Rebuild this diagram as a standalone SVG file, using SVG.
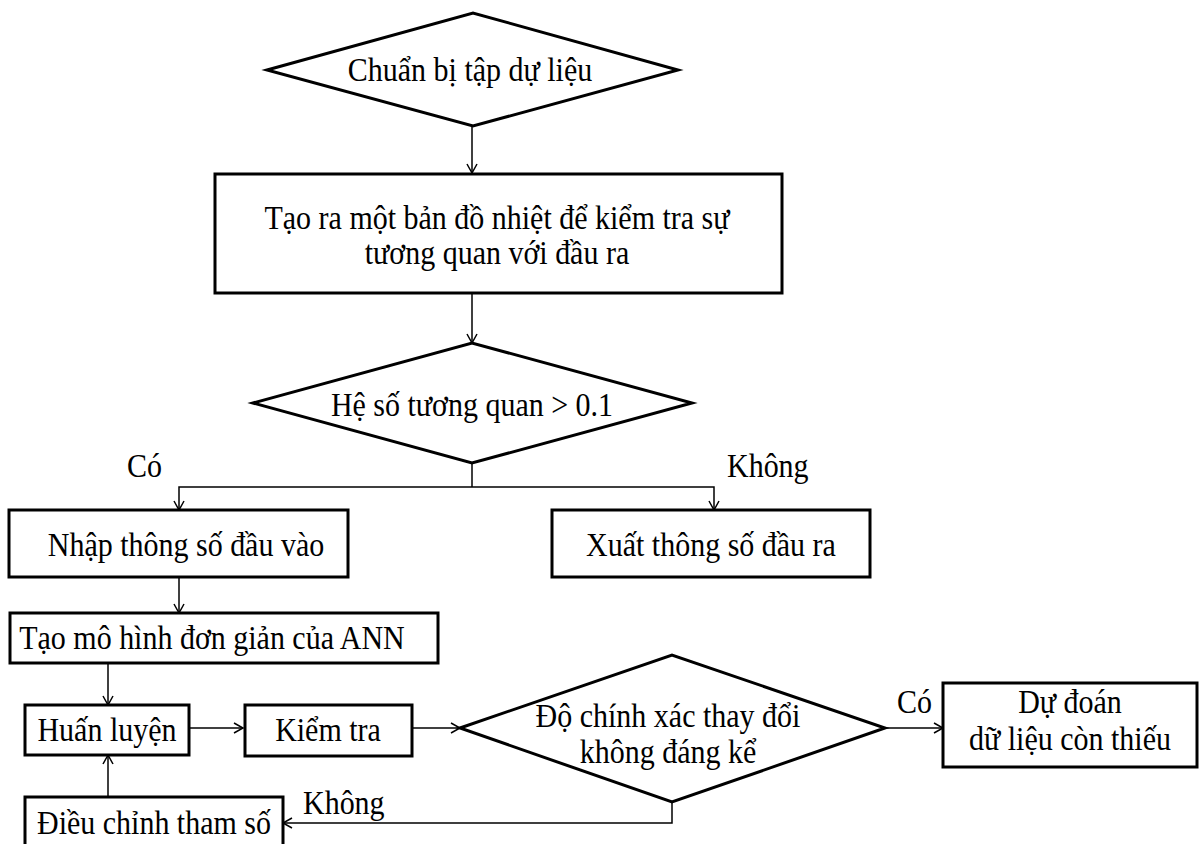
<svg xmlns="http://www.w3.org/2000/svg" width="1202" height="844" viewBox="0 0 1202 844">
<style>
.s{fill:#fff;stroke:#000;stroke-width:3}
.t,.l{font-family:"Liberation Serif","Times New Roman",serif;font-size:30px;fill:#000;transform-box:fill-box;transform-origin:center;transform:scaleY(1.1)}
.t{text-anchor:middle}
.c{fill:none;stroke:#000;stroke-width:1.5}
</style>
<defs>
<marker id="a" markerWidth="12" markerHeight="12" refX="10" refY="6" orient="auto" markerUnits="userSpaceOnUse">
<path d="M1,1 L10,6 L1,11" fill="none" stroke="#000" stroke-width="1.5"/>
</marker>
</defs>
<rect width="1202" height="844" fill="#fff"/>
<g id="connectors">
<path class="c" d="M472,126 V173" marker-end="url(#a)"/>
<path class="c" d="M472,293 V343" marker-end="url(#a)"/>
<path class="c" d="M472,463 V487"/>
<path class="c" d="M472,487 H179 V510" marker-end="url(#a)"/>
<path class="c" d="M472,487 H714 V510" marker-end="url(#a)"/>
<path class="c" d="M179,577 V613" marker-end="url(#a)"/>
<path class="c" d="M108,663 V705" marker-end="url(#a)"/>
<path class="c" d="M189,728 H243" marker-end="url(#a)"/>
<path class="c" d="M412,728 H460" marker-end="url(#a)"/>
<path class="c" d="M108,797 V755" marker-end="url(#a)"/>
<path class="c" d="M672,802 V823 H283" marker-end="url(#a)"/>
<path class="c" d="M885,728 H943" marker-end="url(#a)"/>
<text class="l" x="127" y="476">Có</text>
<text class="l" x="727" y="476">Không</text>
<text class="l" x="897" y="712">Có</text>
<text class="l" x="303" y="813">Không</text>
</g>
<g id="n1">
<polygon class="s" points="267,70 473,13 678,70 473,126"/>
<text class="t" x="470" y="80">Chuẩn bị tập dự liệu</text>
</g>
<g id="n2">
<rect class="s" x="215" y="174" width="567" height="119"/>
<text class="t" x="497" y="228">Tạo ra một bản đồ nhiệt để kiểm tra sự</text>
<text class="t" x="497" y="263">tương quan với đầu ra</text>
</g>
<g id="n3">
<polygon class="s" points="253,403 472,343 692,403 472,463"/>
<text class="t" x="472" y="415">Hệ số tương quan &gt; 0.1</text>
</g>
<g id="n4">
<rect class="s" x="9" y="510" width="339" height="67"/>
<text class="t" x="186" y="555">Nhập thông số đầu vào</text>
</g>
<g id="n5">
<rect class="s" x="552" y="510" width="318" height="67"/>
<text class="t" x="711" y="555">Xuất thông số đầu ra</text>
</g>
<g id="n6">
<rect class="s" x="10" y="613" width="428" height="50"/>
<text class="t" x="212" y="648">Tạo mô hình đơn giản của ANN</text>
</g>
<g id="n7">
<rect class="s" x="25" y="705" width="164" height="50"/>
<text class="t" x="107" y="740">Huấn luyện</text>
</g>
<g id="n8">
<rect class="s" x="245" y="705" width="167" height="51"/>
<text class="t" x="328" y="740">Kiểm tra</text>
</g>
<g id="n9">
<polygon class="s" points="460,728 672,655 885,728 672,802"/>
<text class="t" x="668" y="726">Độ chính xác thay đổi</text>
<text class="t" x="668" y="762">không đáng kể</text>
</g>
<g id="n10">
<rect class="s" x="943" y="683" width="254" height="84"/>
<text class="t" x="1070" y="712">Dự đoán</text>
<text class="t" x="1070" y="749">dữ liệu còn thiếu</text>
</g>
<g id="n11">
<rect class="s" x="25" y="797" width="258" height="60"/>
<text class="t" x="154" y="833">Điều chỉnh tham số</text>
</g>
</svg>
